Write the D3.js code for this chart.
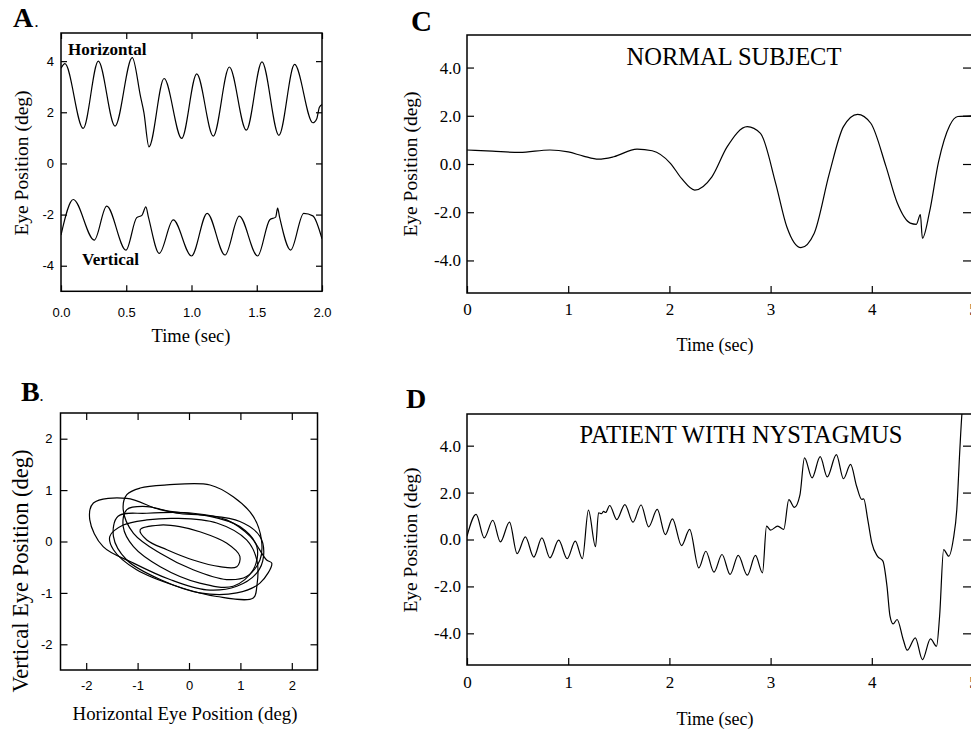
<!DOCTYPE html>
<html>
<head>
<meta charset="utf-8">
<script src="https://cdn.jsdelivr.net/npm/d3@7"></script>
<style>
body { margin: 0; background: #fff; }
</style>
</head>
<body>
<div id="chart"></div>
<script>
// ---- panel A: eye position traces, [time sec, deg]
var aHorizontal = [[0,3.72],[0.03,3.9],[0.17,1.37],[0.286,4.0],[0.414,1.46],[0.546,4.14],[0.61,2.6],[0.635,2.0],[0.674,0.65],
	[0.79,3.32],[0.925,0.98],[1.04,3.5],[1.167,1.07],[1.29,3.77],[1.42,1.3],[1.54,3.97],[1.67,1.1],[1.79,3.87],
	[1.93,1.59],[1.96,1.75],[1.98,2.2],[2.0,2.3]];
var aVertical = [[0,-2.8],[0.094,-1.41],[0.255,-3.0],[0.35,-1.67],[0.498,-3.39],[0.58,-2.12],[0.62,-2.03],[0.65,-1.7],
	[0.67,-2.1],[0.753,-3.52],[0.86,-2.21],[1.0,-3.62],[1.12,-1.95],[1.257,-3.58],[1.366,-2.06],[1.507,-3.62],
	[1.6,-2.2],[1.645,-2.1],[1.66,-1.75],[1.675,-2.1],[1.76,-3.39],[1.86,-1.95],[1.93,-2.05],[2.0,-2.95]];
var aTimeTicks = [0, 0.5, 1, 1.5, 2];
var aPosTicks = [-4, -2, 0, 2, 4];

// ---- panel B: horizontal vs vertical loops, [h deg, v deg]
var bLoop1 = [[-1.86,0.75],[-1.21,0.84],[-0.56,0.62],[0.21,0.52],[0.99,0.39],[1.38,0.10],[1.45,-0.29],[1.32,-0.61],
	[0.93,-0.87],[0.34,-0.94],[-0.37,-0.74],[-1.08,-0.42],[-1.67,-0.10],[-1.93,0.42]];
var bLoop2 = [[-1.21,0.91],[-0.95,1.04],[-0.43,1.10],[0.41,1.10],[0.86,0.87],[1.25,0.49],[1.41,0.03],[1.38,-0.36],
	[1.12,-0.68],[0.73,-0.74],[0.08,-0.55],[-0.56,-0.23],[-1.08,0.16],[-1.28,0.62]];
var bLoop3 = [[-1.38,0.49],[-0.82,0.55],[0.08,0.55],[0.73,0.42],[1.19,0.10],[1.51,-0.36],[1.61,-0.42],[1.38,-0.81],
	[0.93,-1.00],[0.21,-1.00],[-0.56,-0.74],[-1.21,-0.36],[-1.47,0.10]];
var bLoop4 = [[-1.54,0.10],[-1.28,0.32],[-0.82,0.42],[-0.24,0.45],[0.54,0.36],[1.12,0.03],[1.32,-0.36],[1.32,-0.87],
	[1.25,-1.10],[0.54,-1.07],[-0.24,-0.87],[-1.02,-0.55],[-1.47,-0.16]];
var bLoop5 = [[-0.95,0.23],[-0.56,0.32],[-0.18,0.29],[0.21,0.19],[0.73,-0.03],[0.99,-0.29],[0.93,-0.49],[0.60,-0.49],
	[0.08,-0.36],[-0.43,-0.16],[-0.82,0.03]];
var bLoop6 = [[-1.21,0.62],[-0.82,0.68],[-0.24,0.55],[0.41,0.49],[0.99,0.29],[1.32,-0.10],[1.25,-0.55],[0.86,-0.87],
	[0.21,-0.81],[-0.56,-0.49],[-1.08,-0.10],[-1.28,0.29]];
var bLoops = [bLoop1, bLoop2, bLoop3, bLoop4, bLoop5, bLoop6];
var bTicks = [-2, -1, 0, 1, 2];

// ---- panel C: normal subject, [time sec, deg]
var cNormal = [[0,0.58],[0.25,0.53],[0.52,0.48],[0.82,0.58],[1.0,0.5],[1.15,0.33],[1.30,0.2],[1.45,0.3],[1.68,0.62],
	[1.83,0.55],[2.01,0.03],[2.12,-0.6],[2.25,-1.08],[2.42,-0.53],[2.57,0.71],[2.77,1.55],[2.9,1.27],[3.05,-0.8],
	[3.16,-2.6],[3.30,-3.47],[3.43,-2.88],[3.58,-0.4],[3.72,1.55],[3.86,2.06],[3.99,1.69],[4.14,-0.1],[4.25,-1.6],
	[4.38,-2.45],[4.44,-2.5],[4.48,-2.1],[4.50,-3.08],[4.57,-2.0],[4.66,0.1],[4.77,1.6],[4.85,1.97],[5.0,2.0]];

// ---- panel D: patient with nystagmus, [time sec, deg]
var dNystagmus = [[0,0.14],[0.09,1.07],[0.17,0.07],[0.255,0.82],[0.33,-0.1],[0.42,0.74],[0.495,-0.6],[0.577,0.11],
	[0.66,-0.75],[0.74,0.07],[0.82,-0.78],[0.906,-0.03],[0.99,-0.82],[1.07,-0.07],[1.14,-0.82],[1.20,1.25],
	[1.27,-0.31],[1.30,1.14],[1.33,1.1],[1.35,1.2],[1.37,1.15],[1.41,1.45],[1.48,0.85],[1.56,1.49],[1.64,0.74],
	[1.72,1.47],[1.795,0.54],[1.88,1.28],[1.96,0.21],[2.03,0.88],[2.12,-0.26],[2.20,0.43],[2.29,-1.21],[2.36,-0.5],
	[2.44,-1.39],[2.52,-0.64],[2.60,-1.49],[2.68,-0.68],[2.77,-1.52],[2.85,-0.68],[2.92,-1.42],[2.96,0.57],[3.0,0.4],
	[3.07,0.57],[3.13,0.43],[3.18,1.7],[3.235,1.37],[3.29,1.9],[3.335,3.48],[3.41,2.63],[3.49,3.53],[3.56,2.67],
	[3.65,3.62],[3.72,2.59],[3.79,3.2],[3.85,2.27],[3.90,1.71],[3.92,1.73],[3.96,0.85],[4.0,-0.14],[4.055,-0.71],
	[4.11,-0.92],[4.15,-1.99],[4.18,-3.27],[4.21,-3.6],[4.25,-3.41],[4.31,-4.26],[4.35,-4.72],[4.43,-4.19],
	[4.50,-5.12],[4.58,-4.24],[4.64,-4.55],[4.67,-3.27],[4.71,-0.43],[4.76,-0.71],[4.805,0.0],[4.84,1.28],
	[4.87,3.84],[4.89,5.33],[4.91,6.2]];
var cdTimeTicks = [0, 1, 2, 3, 4, 5];
var cdPosTicks = [-4, -2, 0, 2, 4];

var WIDTH = 971, HEIGHT = 729;
var SERIF = "'Liberation Serif', 'Times New Roman', serif";
var SANS = "'Liberation Sans', Arial, sans-serif";

var svg = d3.select("#chart").append("svg")
	.attr("width", WIDTH)
	.attr("height", HEIGHT)
	.style("background", "#fff");

var defs = svg.append("defs");

function drawAxes(x, y, o) {
	var g = svg.append("g");
	var x0 = x.range()[0], x1 = x.range()[1], y0 = y.range()[0], y1 = y.range()[1];

	g.append("g").attr("transform", `translate(0,${y0})`)
		.call(d3.axisBottom(x).tickValues(o.xTicks).tickSize(-o.tick).tickPadding(o.xPad).tickFormat(o.xFmt));
	if (o.topTicks) {
		g.append("g").attr("transform", `translate(0,${y1})`)
			.call(d3.axisTop(x).tickValues(o.xTicks).tickSize(-o.tick).tickFormat(""));
	}
	g.append("g").attr("transform", `translate(${x0},0)`)
		.call(d3.axisLeft(y).tickValues(o.yTicks).tickSize(-o.tick).tickPadding(o.yPad).tickFormat(o.yFmt));
	g.append("g").attr("transform", `translate(${x1},0)`)
		.call(d3.axisRight(y).tickValues(o.yTicks).tickSize(-o.rTick).tickFormat(""));

	g.selectAll(".domain").remove();
	g.selectAll(".tick line").attr("stroke", "#000").attr("stroke-width", 1.2);
	g.selectAll(".tick text")
		.attr("fill", "#000")
		.style("font-family", o.font)
		.style("font-size", o.size + "px");

	g.append("rect")
		.attr("x", x0).attr("y", y1)
		.attr("width", x1 - x0).attr("height", y0 - y1)
		.attr("fill", "none")
		.attr("stroke", "#000")
		.attr("stroke-width", 1.5);
}

function clipFor(id, x, y) {
	defs.append("clipPath").attr("id", id)
		.append("rect")
		.attr("x", x.range()[0]).attr("y", y.range()[1])
		.attr("width", x.range()[1] - x.range()[0])
		.attr("height", y.range()[0] - y.range()[1]);
	return "url(#" + id + ")";
}

function trace(x, y, data, clip, curve) {
	var line = d3.line()
		.x(d => x(d[0]))
		.y(d => y(d[1]))
		.curve(curve || d3.curveMonotoneX);
	svg.append("path")
		.datum(data)
		.attr("d", line)
		.attr("clip-path", clip)
		.attr("fill", "none")
		.attr("stroke", "#000")
		.attr("stroke-width", 1.2)
		.attr("stroke-linejoin", "round");
}

function label(txt, x, y, size, opts) {
	opts = opts || {};
	var t = svg.append("text")
		.attr("x", x).attr("y", y)
		.attr("text-anchor", opts.anchor || "middle")
		.attr("fill", "#000")
		.style("font-family", opts.font || SERIF)
		.style("font-size", size + "px")
		.style("font-weight", opts.bold ? "bold" : "normal")
		.text(txt);
	if (opts.rotate) t.attr("transform", `rotate(-90,${x},${y})`);
	return t;
}

// ===== Panel A
var axA = d3.scaleLinear().domain([0, 2]).range([61, 322]);
var ayA = d3.scaleLinear().domain([-5, 5.1]).range([291.3, 33]);
drawAxes(axA, ayA, {
	xTicks: aTimeTicks, yTicks: aPosTicks, tick: 6, rTick: 6, topTicks: true,
	xPad: 16, yPad: 7, xFmt: d => d.toFixed(1), yFmt: d => String(d),
	font: SANS, size: 13
});
var clipA = clipFor("clipA", axA, ayA);
trace(axA, ayA, aHorizontal, clipA);
trace(axA, ayA, aVertical, clipA);
label("A", 13, 27, 28, {anchor: "start", bold: true});
label(".", 35, 27, 12, {anchor: "start", bold: true});
label("Horizontal", 68, 55, 17, {anchor: "start", bold: true});
label("Vertical", 82, 265, 17, {anchor: "start", bold: true});
label("Eye Position (deg)", 28, 163, 19.5, {rotate: true});
label("Time (sec)", 191, 342, 18.5);

// ===== Panel B
var axB = d3.scaleLinear().domain([-2.5, 2.5]).range([60.5, 317.5]);
var ayB = d3.scaleLinear().domain([-2.5, 2.5]).range([670, 413]);
drawAxes(axB, ayB, {
	xTicks: bTicks, yTicks: bTicks, tick: 7, rTick: 7, topTicks: true,
	xPad: 11, yPad: 8, xFmt: d => String(d), yFmt: d => String(d),
	font: SANS, size: 13
});
var clipB = clipFor("clipB", axB, ayB);
bLoops.forEach(loop => trace(axB, ayB, loop, clipB, d3.curveCatmullRomClosed));
label("B", 21, 401, 28, {anchor: "start", bold: true});
label(".", 40, 401, 12, {anchor: "start", bold: true});
label("Vertical Eye Position (deg)", 28, 571, 22.5, {rotate: true});
label("Horizontal Eye Position (deg)", 185, 720, 18.8);

// ===== Panel C
var axC = d3.scaleLinear().domain([0, 5]).range([467, 973]);
var ayC = d3.scaleLinear().domain([-5.35, 5.35]).range([293, 35]);
drawAxes(axC, ayC, {
	xTicks: cdTimeTicks, yTicks: cdPosTicks, tick: 7, rTick: 10, topTicks: false,
	xPad: 10, yPad: 6, xFmt: d => String(d), yFmt: d => d.toFixed(1),
	font: SERIF, size: 17
});
var clipC = clipFor("clipC", axC, ayC);
trace(axC, ayC, cNormal, clipC);
label("C", 411, 31, 29, {anchor: "start", bold: true});
label("NORMAL SUBJECT", 734, 65, 24.5);
label("Eye Position (deg)", 417, 164, 19.5, {rotate: true});
label("Time (sec)", 715, 351, 18);

// ===== Panel D
var axD = d3.scaleLinear().domain([0, 5]).range([467, 973]);
var ayD = d3.scaleLinear().domain([-5.35, 5.35]).range([665, 414]);
drawAxes(axD, ayD, {
	xTicks: cdTimeTicks, yTicks: cdPosTicks, tick: 7, rTick: 10, topTicks: false,
	xPad: 11, yPad: 6, xFmt: d => String(d), yFmt: d => d.toFixed(1),
	font: SERIF, size: 17
});
var clipD = clipFor("clipD", axD, ayD);
trace(axD, ayD, dNystagmus, clipD);
label("D", 406, 408, 28, {anchor: "start", bold: true});
label("PATIENT WITH NYSTAGMUS", 741, 443, 24.5);
label("Eye Position (deg)", 417, 540, 19.5, {rotate: true});
label("Time (sec)", 715, 725, 18);
</script>
</body>
</html>
